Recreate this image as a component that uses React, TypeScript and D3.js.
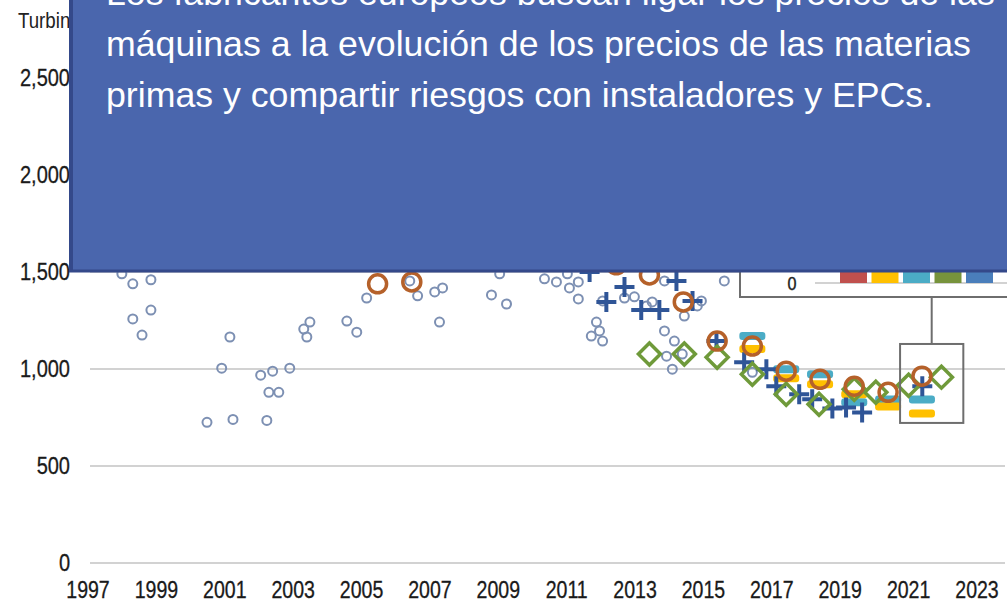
import React, { useRef, useEffect } from 'react';
import * as d3 from 'd3';

// axis ticks
const yearTicks = [1997, 1999, 2001, 2003, 2005, 2007, 2009, 2011, 2013, 2015, 2017, 2019, 2021, 2023];
const valueTicks = [0, 500, 1000, 1500, 2000, 2500];

// individual turbine orders [year, EUR/kW]
const orderPrices: [number, number][] = [
  [1997.99, 1491], [1998.31, 1439], [1998.84, 1460], [1998.31, 1258], [1998.84, 1304], [1998.58, 1175],
  [2000.48, 725], [2000.91, 1004], [2001.15, 1165], [2001.24, 740],
  [2002.05, 968], [2002.23, 735], [2002.29, 880], [2002.40, 989], [2002.58, 880], [2002.90, 1004],
  [2003.31, 1206], [2003.40, 1165], [2003.49, 1242], [2004.57, 1247], [2004.86, 1190],
  [2005.15, 1366], [2006.41, 1454], [2006.64, 1377], [2007.14, 1397], [2007.37, 1418], [2007.28, 1242],
  [2008.80, 1382], [2009.04, 1491], [2009.24, 1335],
  [2010.35, 1465], [2010.70, 1449], [2011.02, 1491], [2011.08, 1418], [2011.34, 1449], [2011.34, 1361],
  [2011.72, 1170], [2011.87, 1242], [2011.96, 1196], [2012.05, 1144], [2012.05, 1351],
  [2012.69, 1366], [2012.98, 1372], [2013.33, 1325], [2013.50, 1346],
  [2013.86, 1454], [2013.86, 1196], [2013.92, 1066], [2014.09, 999], [2014.15, 1144], [2014.38, 1077],
  [2014.44, 1273], [2014.82, 1325], [2014.94, 1351], [2015.61, 1454], [2016.43, 983],
];

const crossIndex: [number, number][] = [
  [2011.67, 1500], [2012.16, 1346], [2012.69, 1423], [2013.18, 1304], [2013.71, 1304], [2014.21, 1454],
  [2014.68, 1351], [2015.38, 1144], [2016.19, 1035], [2016.84, 999], [2017.13, 911], [2017.8, 870],
  [2018.18, 844], [2018.77, 797], [2019.17, 802], [2019.64, 776], [2021.4, 911],
];

const brownIndex: [number, number][] = [
  [2005.47, 1439], [2006.47, 1449], [2012.45, 1537], [2013.42, 1485], [2014.41, 1346], [2015.4, 1144],
  [2016.43, 1118], [2017.42, 989], [2018.41, 947], [2019.41, 911], [2020.4, 880], [2021.39, 963],
];

const greenIndex: [number, number][] = [
  [2013.42, 1077], [2014.44, 1077], [2015.4, 1061], [2016.43, 973], [2017.42, 870], [2018.38, 818],
  [2019.41, 895], [2020.04, 880], [2021.0, 916], [2021.96, 958],
];

const cyanIndex: [number, number][] = [
  [2016.43, 1170], [2017.42, 999], [2018.41, 973], [2019.41, 828], [2020.4, 843], [2021.39, 843],
];

const yellowIndex: [number, number][] = [
  [2016.43, 1103], [2017.42, 952], [2018.41, 921], [2019.41, 870], [2020.4, 807], [2021.39, 771],
];

// inset bar chart (mostly covered)
const insetCats = ['red', 'yellow', 'cyan', 'green', 'blue'];
const insetValues = [900, 780, 850, 960, 910];
const insetColors = ['#c0504d', '#ffc000', '#4bacc6', '#77933c', '#4a7ebb'];

// zoom box region [years], [values]
const zoomYears = [2020.75, 2022.6];
const zoomValues = [722, 1129];

const overlayLines = [
  'Los fabricantes europeos buscan ligar los precios de las',
  'máquinas a la evolución de los precios de las materias',
  'primas y compartir riesgos con instaladores y EPCs.',
];

const App = () => {
  const ref = useRef<SVGSVGElement>(null);

  useEffect(() => {
    if (!ref.current) return;
    const svg = d3.select(ref.current);
    svg.selectAll('*').remove();

    const x = d3.scaleLinear().domain([1997, 2023]).range([88, 977]);
    const y = d3.scaleLinear().domain([0, 2500]).range([563, 78]);
    const font = 'Liberation Sans, Arial, sans-serif';

    // title (hidden mostly)
    svg.append('text')
      .attr('transform', 'translate(18,28) scale(0.85,1)')
      .attr('font-family', font).attr('font-size', 22).attr('fill', '#222')
      .text('Turbine price');

    // gridlines
    svg.append('g').selectAll('line').data(valueTicks).join('line')
      .attr('x1', 90).attr('x2', 1005)
      .attr('y1', d => y(d)).attr('y2', d => y(d))
      .attr('stroke', '#d2d2d2').attr('stroke-width', 2);

    svg.append('g').selectAll('text').data(valueTicks).join('text')
      .attr('transform', d => `translate(70,${y(d) + 8}) scale(0.87,1)`)
      .attr('text-anchor', 'end')
      .attr('font-family', font).attr('font-size', 23).attr('fill', '#1a1a1a')
      .attr('stroke', '#1a1a1a').attr('stroke-width', 0.3)
      .text(d => d3.format(',')(d));

    svg.append('g').selectAll('text').data(yearTicks).join('text')
      .attr('transform', d => `translate(${x(d)},598) scale(0.85,1)`)
      .attr('text-anchor', 'middle')
      .attr('font-family', font).attr('font-size', 23).attr('fill', '#1a1a1a')
      .attr('stroke', '#1a1a1a').attr('stroke-width', 0.3)
      .text(d => d);

    // small circles
    svg.append('g').selectAll('circle').data(orderPrices).join('circle')
      .attr('cx', d => x(d[0])).attr('cy', d => y(d[1])).attr('r', 4.5)
      .attr('fill', 'none').attr('stroke', '#7d90b3').attr('stroke-width', 2);

    const bars = (data: [number, number][], color: string) => {
      svg.append('g').selectAll('rect').data(data).join('rect')
        .attr('x', d => x(d[0]) - 13).attr('y', d => y(d[1]) - 4)
        .attr('width', 26).attr('height', 8).attr('rx', 3)
        .attr('fill', color);
    };
    bars(cyanIndex, '#4bacc6');
    bars(yellowIndex, '#ffc000');

    svg.append('g').selectAll('path').data(crossIndex).join('path')
      .attr('transform', d => `translate(${x(d[0])},${y(d[1])})`)
      .attr('d', 'M-10,0H10M0,-10V10')
      .attr('stroke', '#2f5597').attr('stroke-width', 4).attr('fill', 'none');

    svg.append('g').selectAll('path').data(greenIndex).join('path')
      .attr('transform', d => `translate(${x(d[0])},${y(d[1])})`)
      .attr('d', 'M0,-11L11,0L0,11L-11,0Z')
      .attr('stroke', '#6f9a3a').attr('stroke-width', 3.5).attr('fill', 'none');

    svg.append('g').selectAll('circle').data(brownIndex).join('circle')
      .attr('cx', d => x(d[0])).attr('cy', d => y(d[1])).attr('r', 9)
      .attr('fill', 'none').attr('stroke', '#b5612a').attr('stroke-width', 3.5);

    // zoom box + connector
    const bx0 = x(zoomYears[0]), bx1 = x(zoomYears[1]);
    const by0 = y(zoomValues[1]), by1 = y(zoomValues[0]);
    svg.append('rect')
      .attr('x', bx0).attr('y', by0).attr('width', bx1 - bx0).attr('height', by1 - by0)
      .attr('fill', 'none').attr('stroke', '#6e6e6e').attr('stroke-width', 2);
    svg.append('line')
      .attr('x1', (bx0 + bx1) / 2).attr('x2', (bx0 + bx1) / 2)
      .attr('y1', 297).attr('y2', by0)
      .attr('stroke', '#6e6e6e').attr('stroke-width', 2);

    // inset panel
    svg.append('rect')
      .attr('x', 740).attr('y', -10).attr('width', 320).attr('height', 307)
      .attr('fill', '#fff').attr('stroke', '#6e6e6e').attr('stroke-width', 2);
    const ix = d3.scaleBand().domain(insetCats).range([840, 993]).paddingInner(0.143);
    const iy = d3.scaleLinear().domain([0, 1000]).range([283, 183]);
    svg.append('line')
      .attr('x1', 815).attr('x2', 1007).attr('y1', iy(0)).attr('y2', iy(0))
      .attr('stroke', '#d2d2d2').attr('stroke-width', 2);
    svg.append('g').selectAll('rect').data(insetValues).join('rect')
      .attr('x', (_, i) => ix(insetCats[i]) as number)
      .attr('y', d => iy(d)).attr('width', ix.bandwidth()).attr('height', d => iy(0) - iy(d))
      .attr('fill', (_, i) => insetColors[i]);
    svg.append('text')
      .attr('transform', `translate(792,${iy(0) + 7}) scale(0.85,1)`)
      .attr('text-anchor', 'middle')
      .attr('font-family', font).attr('font-size', 19).attr('fill', '#1a1a1a')
      .attr('stroke', '#1a1a1a').attr('stroke-width', 0.4)
      .text('0');

    // slide overlay
    svg.append('rect')
      .attr('x', 71).attr('y', -20).attr('width', 960).attr('height', 290)
      .attr('fill', '#4a66ad');
    svg.append('line')
      .attr('x1', 71).attr('x2', 71).attr('y1', -20).attr('y2', 272)
      .attr('stroke', '#34498a').attr('stroke-width', 4);
    svg.append('line')
      .attr('x1', 69).attr('x2', 1007).attr('y1', 271).attr('y2', 271)
      .attr('stroke', '#34498a').attr('stroke-width', 3);

    svg.append('g').selectAll('text').data(overlayLines).join('text')
      .attr('x', 106).attr('y', (_, i) => 5 + i * 51)
      .attr('font-family', font).attr('font-size', 35.7).attr('fill', '#fff')
      .text(d => d);
  }, []);

  return (
    <svg
      ref={ref}
      width={1007}
      height={603}
      style={{ position: 'absolute', left: 0, top: 0, background: '#fff' }}
    />
  );
};

export default App;
